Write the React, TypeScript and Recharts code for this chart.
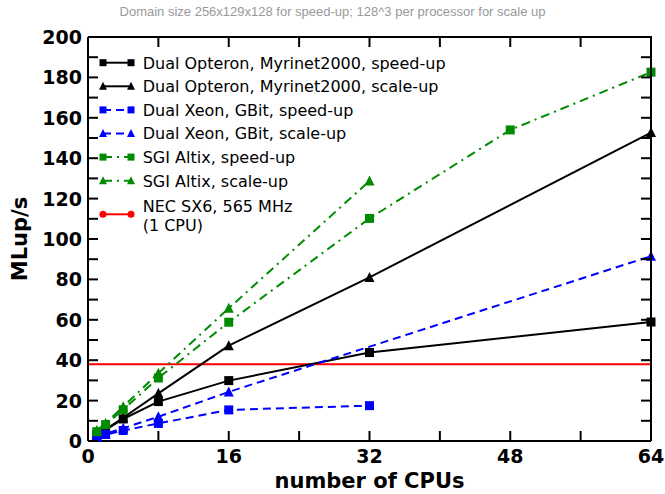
import React from 'react';
import { LineChart, Line, XAxis, YAxis, Label } from 'recharts';

// CPU counts and measured MLup/s per machine
const opteronCpus = [1, 2, 4, 8, 16, 32, 64];
const opteronSpeedUp = [2.8, 5.5, 10.9, 19.5, 29.9, 43.8, 58.9];
const opteronScaleUp = [2.9, 5.8, 11.5, 23.6, 47.2, 81, 152.7];

const xeonSpeedUpCpus = [1, 2, 4, 8, 16, 32];
const xeonSpeedUp = [1.8, 3.2, 5.2, 8.7, 15.4, 17.5];
const xeonScaleUpCpus = [1, 2, 4, 8, 16, 64];
const xeonScaleUp = [1.9, 3.6, 6.3, 12, 24.3, 91.5];

const altixSpeedUpCpus = [1, 2, 4, 8, 16, 32, 48, 64];
const altixSpeedUp = [4.6, 8.1, 15.5, 31.2, 58.8, 110.2, 154, 182.6];
const altixScaleUpCpus = [1, 2, 4, 8, 16, 32];
const altixScaleUp = [5.2, 8.8, 17, 33.6, 65.7, 128.7];

const necCpus = [0, 64];
const necSingleCpu = [38, 38];

const xTicks = [0, 8, 16, 24, 32, 40, 48, 56, 64];
const yTicks = [0, 10, 20, 30, 40, 50, 60, 70, 80, 90, 100, 110, 120, 130, 140, 150, 160, 170, 180, 190, 200];
const X_MAX = 64;
const Y_MAX = 200;

const BLACK = '#000000';
const BLUE = '#0000ff';
const GREEN = '#008b00';
const RED = '#ff0000';
const DASHED = '8 5';
const DASH_DOT = '9 5 2 5';
const TICK_LEN = 10;

const CHART_W = 665;
const CHART_H = 494;
const MARGIN = { top: 37, right: 14, bottom: 52, left: 87 };
const AXIS_SIZE = 1;
const PLOT_LEFT = MARGIN.left + AXIS_SIZE;
const PLOT_TOP = MARGIN.top;
const PLOT_RIGHT = CHART_W - MARGIN.right;
const PLOT_BOTTOM = CHART_H - MARGIN.bottom - AXIS_SIZE;

type Marker = 'square' | 'triangle' | 'circle' | 'none';

interface Series {
  name: string;
  cpus: number[];
  mlups: number[];
  color: string;
  dash?: string;
  marker: Marker;
}

const seriesList: Series[] = [
  { name: 'Dual Opteron, Myrinet2000, speed-up', cpus: opteronCpus, mlups: opteronSpeedUp, color: BLACK, marker: 'square' },
  { name: 'Dual Opteron, Myrinet2000, scale-up', cpus: opteronCpus, mlups: opteronScaleUp, color: BLACK, marker: 'triangle' },
  { name: 'Dual Xeon, GBit, speed-up', cpus: xeonSpeedUpCpus, mlups: xeonSpeedUp, color: BLUE, dash: DASHED, marker: 'square' },
  { name: 'Dual Xeon, GBit, scale-up', cpus: xeonScaleUpCpus, mlups: xeonScaleUp, color: BLUE, dash: DASHED, marker: 'triangle' },
  { name: 'SGI Altix, speed-up', cpus: altixSpeedUpCpus, mlups: altixSpeedUp, color: GREEN, dash: DASH_DOT, marker: 'square' },
  { name: 'SGI Altix, scale-up', cpus: altixScaleUpCpus, mlups: altixScaleUp, color: GREEN, dash: DASH_DOT, marker: 'triangle' },
];

const necSeries: Series = {
  name: 'NEC SX6, 565 MHz\n(1 CPU)',
  cpus: necCpus,
  mlups: necSingleCpu,
  color: RED,
  marker: 'circle',
};

const FONT = '"DejaVu Sans", sans-serif';

function drawMarker(marker: Marker, cx: number, cy: number, size: number, color: string, key?: string) {
  const h = size / 2;
  if (marker === 'square') {
    return <rect key={key} x={cx - h} y={cy - h} width={size} height={size} fill={color} />;
  }
  if (marker === 'triangle') {
    const pts = `${cx},${cy - h - 1} ${cx - h - 0.5},${cy + h} ${cx + h + 0.5},${cy + h}`;
    return <polygon key={key} points={pts} fill={color} />;
  }
  if (marker === 'circle') {
    return <circle key={key} cx={cx} cy={cy} r={h} fill={color} />;
  }
  return null;
}

const markerDot = (s: Series) => (props: any) => {
  const { cx, cy, index } = props;
  if (cx == null || cy == null) return <g key={`e-${index}`} />;
  return drawMarker(s.marker, cx, cy, 9, s.color, `${s.name}-${index}`);
};

const toRows = (s: Series) => s.cpus.map((c, i) => ({ cpus: c, mlups: s.mlups[i] }));

// bottom ticks point up into the plot, labels every 16
const XTick = (props: any) => {
  const { x, y, payload } = props;
  const v = payload.value as number;
  return (
    <g>
      <line x1={x} y1={y} x2={x} y2={y - TICK_LEN} stroke={BLACK} strokeWidth={2} />
      {v % 16 === 0 && (
        <text x={x} y={y + 22} textAnchor="middle" fontFamily={FONT} fontWeight="bold" fontSize={19} fill={BLACK}>
          {v}
        </text>
      )}
    </g>
  );
};

// left ticks point right into the plot, labels every 20
const YTick = (props: any) => {
  const { x, y, payload } = props;
  const v = payload.value as number;
  return (
    <g>
      <line x1={x} y1={y} x2={x + TICK_LEN} y2={y} stroke={BLACK} strokeWidth={2} />
      {v % 20 === 0 && (
        <text x={x - 6} y={y + 7} textAnchor="end" fontFamily={FONT} fontWeight="bold" fontSize={19} fill={BLACK}>
          {v}
        </text>
      )}
    </g>
  );
};

// top and right edges of the frame, mirroring the bottom/left ticks
const FrameEdges = () => {
  const px = (v: number) => PLOT_LEFT + (v / X_MAX) * (PLOT_RIGHT - PLOT_LEFT);
  const py = (v: number) => PLOT_BOTTOM - (v / Y_MAX) * (PLOT_BOTTOM - PLOT_TOP);
  return (
    <svg width={CHART_W} height={CHART_H} style={{ position: 'absolute', left: 0, top: 0, pointerEvents: 'none' }}>
      <polyline
        points={`${PLOT_LEFT},${PLOT_TOP} ${PLOT_RIGHT},${PLOT_TOP} ${PLOT_RIGHT},${PLOT_BOTTOM}`}
        fill="none"
        stroke={BLACK}
        strokeWidth={2}
      />
      {xTicks.map((v) => (
        <line key={`t${v}`} x1={px(v)} y1={PLOT_TOP} x2={px(v)} y2={PLOT_TOP + TICK_LEN} stroke={BLACK} strokeWidth={2} />
      ))}
      {yTicks.map((v) => (
        <line key={`r${v}`} x1={PLOT_RIGHT} y1={py(v)} x2={PLOT_RIGHT - TICK_LEN} y2={py(v)} stroke={BLACK} strokeWidth={2} />
      ))}
    </svg>
  );
};

const LegendBox = () => {
  const rowY = (i: number) => 12.7 + 23.6 * i;
  const symbol = (s: Series, cy: number) => (
    <g>
      <line x1={5} y1={cy} x2={33} y2={cy} stroke={s.color} strokeWidth={2} strokeDasharray={s.dash} />
      {drawMarker(s.marker, 5, cy, 7, s.color)}
      {drawMarker(s.marker, 33, cy, 7, s.color)}
    </g>
  );
  const [necLine1, necLine2] = necSeries.name.split('\n');
  return (
    <svg width={380} height={190} style={{ display: 'block' }}>
      {seriesList.map((s, i) => (
        <g key={s.name}>
          {symbol(s, rowY(i))}
          <text x={44.7} y={rowY(i) + 5.8} fontFamily={FONT} fontSize={16} fill={BLACK}>
            {s.name}
          </text>
        </g>
      ))}
      {symbol(necSeries, 164.3)}
      <text x={44.7} y={155.7 + 5.8} fontFamily={FONT} fontSize={16} fill={BLACK}>
        {necLine1}
      </text>
      <text x={44.7} y={175 + 5.8} fontFamily={FONT} fontSize={16} fill={BLACK}>
        {necLine2}
      </text>
    </svg>
  );
};

const axisLine = { stroke: BLACK, strokeWidth: 2 };

export default function App() {
  return (
    <div style={{ position: 'absolute', left: 0, top: 0, width: CHART_W, height: CHART_H, background: '#fff' }}>
      <div
        style={{
          position: 'absolute',
          left: 0,
          top: 4,
          width: CHART_W,
          textAlign: 'center',
          fontFamily: '"Liberation Sans", Arial, sans-serif',
          fontSize: 13,
          lineHeight: '15px',
          color: '#999999',
        }}
      >
        Domain size 256x129x128 for speed-up; 128^3 per processor for scale up
      </div>
      <LineChart width={CHART_W} height={CHART_H} margin={MARGIN}>
        <XAxis
          xAxisId="cpu"
          dataKey="cpus"
          type="number"
          domain={[0, X_MAX]}
          ticks={xTicks}
          interval={0}
          height={AXIS_SIZE}
          tickSize={0}
          tickMargin={0}
          tickLine={false}
          tick={<XTick />}
          axisLine={axisLine}
        >
          <Label
            content={(p: any) => {
              const vb = p.viewBox;
              return (
                <text x={vb.x + vb.width / 2} y={PLOT_BOTTOM + 47} textAnchor="middle" fontFamily={FONT} fontWeight="bold" fontSize={21} fill={BLACK}>
                  number of CPUs
                </text>
              );
            }}
          />
        </XAxis>
        <YAxis
          yAxisId="mlups"
          type="number"
          domain={[0, Y_MAX]}
          ticks={yTicks}
          interval={0}
          width={AXIS_SIZE}
          tickSize={0}
          tickMargin={0}
          tickLine={false}
          tick={<YTick />}
          axisLine={axisLine}
        >
          <Label
            content={(p: any) => {
              const vb = p.viewBox;
              const cy = vb.y + vb.height / 2;
              return (
                <text x={27} y={cy} transform={`rotate(-90, 27, ${cy})`} textAnchor="middle" fontFamily={FONT} fontWeight="bold" fontSize={21} fill={BLACK}>
                  MLup/s
                </text>
              );
            }}
          />
        </YAxis>

        <Line
          xAxisId="cpu"
          yAxisId="mlups"
          data={toRows(necSeries)}
          dataKey="mlups"
          name={necSeries.name}
          stroke={RED}
          strokeWidth={2}
          dot={false}
          activeDot={false}
          isAnimationActive={false}
        />
        {seriesList.map((s) => (
          <Line
            key={s.name}
            xAxisId="cpu"
            yAxisId="mlups"
            data={toRows(s)}
            dataKey="mlups"
            name={s.name}
            type="linear"
            stroke={s.color}
            strokeWidth={2}
            strokeDasharray={s.dash}
            dot={markerDot(s)}
            activeDot={false}
            isAnimationActive={false}
          />
        ))}
      </LineChart>
      <FrameEdges />
      <div style={{ position: 'absolute', left: 98, top: 50 }}>
        <LegendBox />
      </div>
    </div>
  );
}
